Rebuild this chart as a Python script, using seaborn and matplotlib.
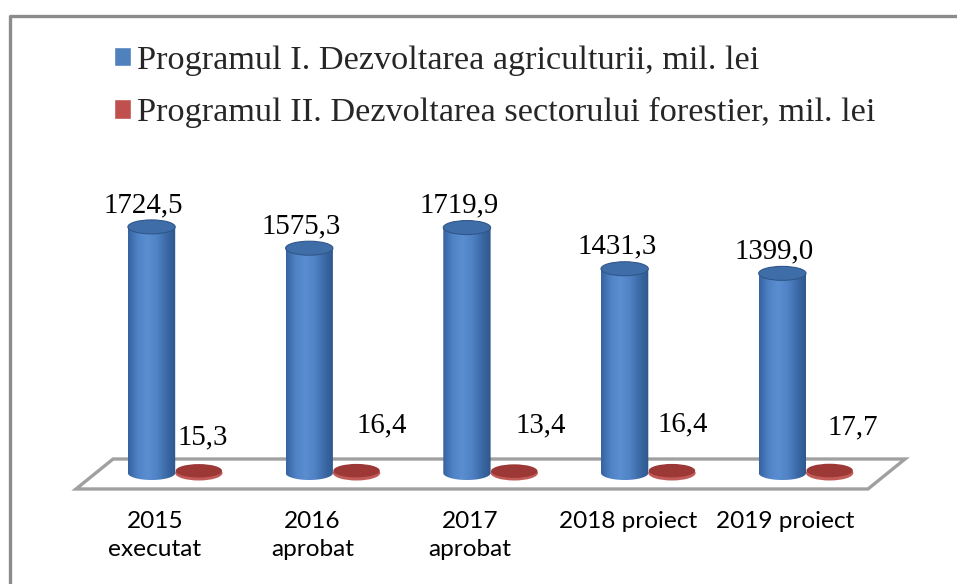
import matplotlib.pyplot as plt
import numpy as np
import pandas as pd
import seaborn as sns
from matplotlib.colors import LinearSegmentedColormap
from matplotlib.lines import Line2D
from matplotlib.patches import Ellipse, PathPatch, Polygon
from matplotlib.path import Path

# --- data ---
categories = ["2015\nexecutat", "2016\naprobat", "2017\naprobat",
              "2018 proiect", "2019 proiect"]
series_names = ["Programul I. Dezvoltarea agriculturii, mil. lei",
                "Programul II. Dezvoltarea sectorului forestier, mil. lei"]
agri_values = [1724.5, 1575.3, 1719.9, 1431.3, 1399.0]
forest_values = [15.3, 16.4, 13.4, 16.4, 17.7]

# label nudges for the small series (pixels), as placed in the original
forest_label_dx = [4, 25, 26, 11, 23]
forest_label_dy = [26, 38, 39, 39, 36]

BLUE = "#4F81BD"
RED = "#C0504D"
SERIF = ["Liberation Serif", "DejaVu Serif"]
SANS = ["Lato", "Liberation Sans", "DejaVu Sans"]

W, H = 957, 584
# axes box in pixels (left, right, bottom, top from top edge)
AX_L, AX_R, AX_B, AX_T = 40, 940, 500, 150
# pixel mapping of the plot: x_px = X0 + DX * x, y_px = Y0 - SY * v
X0, DX = 175.2, 157.7
Y0, SY = 473.0, 0.1427
ELL_PX = 14    # height of blue cylinder caps in pixels
RED_ELL_PX = 15

sns.set_theme(style="white")
plt.rcParams["font.family"] = SERIF

df = pd.DataFrame({
    "Categorie": categories * 2,
    "Program": [series_names[0]] * 5 + [series_names[1]] * 5,
    "Valoare": agri_values + forest_values,
})

fig = plt.figure(figsize=(W / 100, H / 100), dpi=100)
ax = fig.add_axes([AX_L / W, (H - AX_B) / H, (AX_R - AX_L) / W, (AX_B - AX_T) / H])

sns.barplot(data=df, x="Categorie", y="Valoare", hue="Program",
            palette=[BLUE, RED], width=0.6, gap=0, saturation=1,
            ax=ax, legend=True)

xlim = ((AX_L - X0) / DX, (AX_R - X0) / DX)
ylim = ((Y0 - AX_B) / SY, (Y0 - AX_T) / SY)
ell_h = ELL_PX / SY
red_ell_h = RED_ELL_PX / SY

cyl_cmap = LinearSegmentedColormap.from_list(
    "cyl", ["#3763A0", "#4F83C6", "#5A8ED0", "#5083C5", "#3C6BA8", "#2E578C"])

# floor of the 3-D plot
floor = Polygon([(-0.629, -112), (4.393, -112), (4.628, 98), (-0.394, 98)],
                closed=True, facecolor="white", edgecolor="#A0A0A0",
                lw=2.4, zorder=0.5)
ax.add_patch(floor)

blue_bars, red_bars = ax.containers[0], ax.containers[1]

for bar, v in zip(blue_bars, agri_values):
    bar.set_visible(False)
    x0, w = bar.get_x(), bar.get_width()
    cx = x0 + w / 2
    t = np.linspace(np.pi, 2 * np.pi, 60)
    arc = np.column_stack([cx + w / 2 * np.cos(t), ell_h / 2 * np.sin(t)])
    verts = np.vstack([[x0, v], [x0, 0], arc, [x0 + w, v], [x0, v]])
    codes = [Path.MOVETO] + [Path.LINETO] * (len(verts) - 2) + [Path.CLOSEPOLY]
    body = PathPatch(Path(verts, codes), facecolor="none", edgecolor="none",
                     transform=ax.transData)
    ax.add_patch(body)
    im = ax.imshow(np.linspace(0, 1, 64)[None, :], cmap=cyl_cmap,
                   extent=[x0, x0 + w, -ell_h / 2, v], aspect="auto",
                   zorder=3, interpolation="bilinear")
    im.set_clip_path(body)
    ax.add_patch(Ellipse((cx, v), w, ell_h, facecolor="#3F6DA8",
                         edgecolor="#30578A", lw=0.8, zorder=4))
    ax.annotate(f"{v:.1f}".replace(".", ","), xy=(cx, v),
                xytext=(-8 * 0.72, 15 * 0.72), textcoords="offset points",
                ha="center", va="baseline", fontsize=20.8, family=SERIF,
                color="black")

for bar, v, dx, dy in zip(red_bars, forest_values, forest_label_dx, forest_label_dy):
    bar.set_visible(False)
    x0, w = bar.get_x(), bar.get_width()
    cx = x0 + w / 2
    ax.add_patch(Ellipse((cx, 0), w, red_ell_h, facecolor="#C25A57",
                         edgecolor="none", zorder=2))
    ax.add_patch(Ellipse((cx, v), w * 0.98, red_ell_h * 0.9, facecolor="#9C3836",
                         edgecolor="none", zorder=2.1))
    ax.annotate(f"{v:.1f}".replace(".", ","), xy=(cx, v),
                xytext=(dx * 0.72, dy * 0.72), textcoords="offset points",
                ha="center", va="baseline", fontsize=20.8, family=SERIF,
                color="black")

# legend
leg = ax.get_legend()
handles = leg.legend_handles
leg.remove()
ax.legend(handles, series_names, loc="upper left",
          bbox_to_anchor=(114 / W, 1 - 45 / H), bbox_transform=fig.transFigure,
          frameon=False, prop={"family": SERIF, "size": 24.7},
          handlelength=0.5, handleheight=0.5, handletextpad=0.18,
          labelspacing=0.63, borderpad=0, borderaxespad=0)

ax.set_xticks(np.arange(len(categories)) - 0.13)
ax.set_xticklabels(categories, fontsize=17.6, family=SANS, linespacing=1.4,
                   color="black")
ax.tick_params(axis="x", length=0, pad=8)
ax.set_yticks([])
ax.set_xlabel("")
ax.set_ylabel("")
ax.set_xlim(*xlim)
ax.set_ylim(*ylim)
for s in ax.spines.values():
    s.set_visible(False)
ax.patch.set_alpha(0)

# outer chart frame (cut off at right and bottom)
fig.add_artist(Line2D([10 / W, 10 / W, 1.0], [0, 1 - 15.5 / H, 1 - 15.5 / H],
                      transform=fig.transFigure, color="#8C8C8C", lw=2.4))

fig.savefig("out.png", dpi=100)
